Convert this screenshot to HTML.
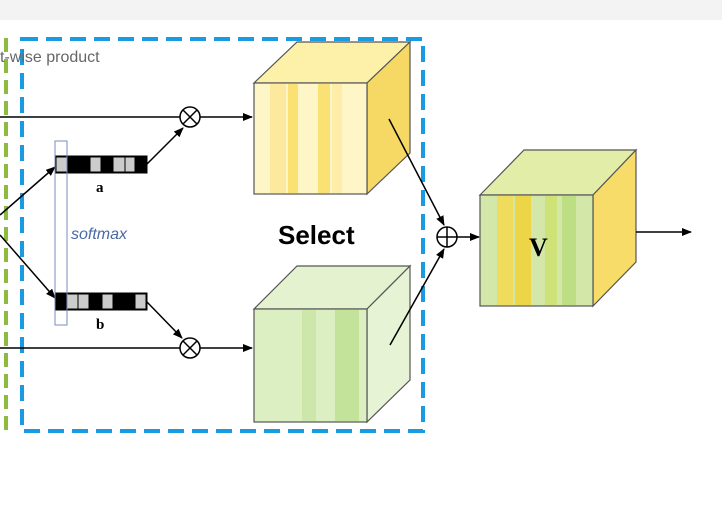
<!DOCTYPE html>
<html><head><style>
body{margin:0;width:722px;height:518px;background:#fff;overflow:hidden}
</style></head><body>
<svg width="722" height="518" viewBox="0 0 722 518" xmlns="http://www.w3.org/2000/svg">
<defs>
<marker id="ar" markerWidth="10" markerHeight="8" refX="9" refY="4" orient="auto" markerUnits="userSpaceOnUse"><path d="M0,0 L10,4 L0,8 z" fill="#000"/></marker>
</defs>
<rect x="0" y="0" width="722" height="20" fill="#f3f3f3"/>
<!-- green dashed -->
<line x1="6" y1="38" x2="6" y2="432" stroke="#8dbb3e" stroke-width="4" stroke-dasharray="14,7"/>
<!-- blue dashed -->
<rect x="22" y="39" width="401" height="392" fill="none" stroke="#1a9ae0" stroke-width="4" stroke-dasharray="16,8"/>
<text x="0" y="62" font-family="Liberation Sans, sans-serif" font-size="16" fill="#666">t-wise product</text>
<!-- lines -->
<line x1="0" y1="117" x2="180" y2="117" stroke="#000" stroke-width="1.5"/>
<line x1="200" y1="117" x2="252" y2="117" stroke="#000" stroke-width="1.5" marker-end="url(#ar)"/>
<line x1="0" y1="348" x2="180" y2="348" stroke="#000" stroke-width="1.5"/>
<line x1="200" y1="348" x2="252" y2="348" stroke="#000" stroke-width="1.5" marker-end="url(#ar)"/>
<g fill="#fff" stroke="#000" stroke-width="1.5">
<circle cx="190" cy="117" r="10"/><circle cx="190" cy="348" r="10"/>
</g>
<path d="M183,110 L197,124 M197,110 L183,124 M183,341 L197,355 M197,341 L183,355" stroke="#000" stroke-width="1.5"/>
<line x1="0" y1="215" x2="55" y2="167" stroke="#000" stroke-width="1.5" marker-end="url(#ar)"/>
<line x1="0" y1="235" x2="55" y2="298" stroke="#000" stroke-width="1.5" marker-end="url(#ar)"/>
<line x1="147" y1="164" x2="183" y2="128" stroke="#000" stroke-width="1.5" marker-end="url(#ar)"/>
<line x1="147" y1="302" x2="182" y2="338" stroke="#000" stroke-width="1.5" marker-end="url(#ar)"/>
<!-- vectors -->
<g stroke="#000" stroke-width="1">
<rect x="55" y="156" width="92" height="17" fill="#000"/>
<rect x="56" y="157" width="11" height="15" fill="#ccc"/>
<rect x="90" y="157" width="11" height="15" fill="#ccc"/>
<rect x="113" y="157" width="12" height="15" fill="#ccc"/>
<rect x="125" y="157" width="10" height="15" fill="#ccc"/>
<rect x="55" y="293" width="92" height="17" fill="#000"/>
<rect x="67" y="294" width="11" height="15" fill="#ccc"/>
<rect x="78" y="294" width="11" height="15" fill="#ccc"/>
<rect x="102" y="294" width="11" height="15" fill="#ccc"/>
<rect x="135" y="294" width="11" height="15" fill="#ccc"/>
</g>
<rect x="55" y="141" width="12" height="184" fill="none" stroke="#7a8db8" stroke-width="1"/>
<text x="96" y="192" font-family="Liberation Serif, serif" font-weight="bold" font-size="15">a</text>
<text x="96" y="329" font-family="Liberation Serif, serif" font-weight="bold" font-size="15">b</text>
<text x="71" y="239" font-family="Liberation Sans, sans-serif" font-style="italic" font-size="16" fill="#4a6aa5">softmax</text>
<text x="278" y="244" font-family="Liberation Sans, sans-serif" font-weight="bold" font-size="26">Select</text>
<!-- yellow cube -->
<g stroke="#555" stroke-width="1.2">
<polygon points="254,83 297,42 410,42 367,83" fill="#fdf0a8"/>
<polygon points="367,83 410,42 410,153 367,194" fill="#f6d865"/>
<rect x="254" y="83" width="113" height="111" fill="#fff6c8"/>
</g>
<rect x="270" y="84" width="16" height="109" fill="#fbe48a" opacity=".7"/>
<rect x="288" y="84" width="10" height="109" fill="#f9d94e" opacity=".7"/>
<rect x="318" y="84" width="12" height="109" fill="#f8d850" opacity=".7"/>
<rect x="332" y="84" width="10" height="109" fill="#fce99b" opacity=".7"/>
<!-- green cube -->
<g stroke="#555" stroke-width="1.2">
<polygon points="254,309 297,266 410,266 367,309" fill="#e4f2cf"/>
<polygon points="367,309 410,266 410,380 367,422" fill="#e6f3d5"/>
<rect x="254" y="309" width="113" height="113" fill="#dbefc2"/>
</g>
<rect x="302" y="310" width="14" height="111" fill="#c8e5a2" opacity=".8"/>
<rect x="335" y="310" width="24" height="111" fill="#bde090" opacity=".8"/>
<!-- V cube -->
<g stroke="#555" stroke-width="1.2">
<polygon points="480,195 524,150 636,150 593,195" fill="#e2eda8"/>
<polygon points="593,195 636,150 636,262 593,306" fill="#f8dc6a"/>
<rect x="480" y="195" width="113" height="111" fill="#d3e8a8"/>
</g>
<rect x="497" y="196" width="16" height="109" fill="#f6d84a" opacity=".8"/>
<rect x="515" y="196" width="16" height="109" fill="#f4d030" opacity=".8"/>
<rect x="545" y="196" width="12" height="109" fill="#cde06a" opacity=".8"/>
<rect x="562" y="196" width="14" height="109" fill="#b8db78" opacity=".8"/>
<text x="529" y="256" font-family="Liberation Serif, serif" font-weight="bold" font-size="26">V</text>
<!-- plus -->
<line x1="389" y1="119" x2="444" y2="225" stroke="#000" stroke-width="1.5" marker-end="url(#ar)"/>
<line x1="390" y1="345" x2="444" y2="249" stroke="#000" stroke-width="1.5" marker-end="url(#ar)"/>
<circle cx="447" cy="237" r="10" fill="#fff" stroke="#000" stroke-width="1.5"/>
<path d="M437,237 H457 M447,227 V247" stroke="#000" stroke-width="1.5"/>
<line x1="457" y1="237" x2="479" y2="237" stroke="#000" stroke-width="1.5" marker-end="url(#ar)"/>
<line x1="636" y1="232" x2="691" y2="232" stroke="#000" stroke-width="1.5" marker-end="url(#ar)"/>
</svg>
</body></html>
